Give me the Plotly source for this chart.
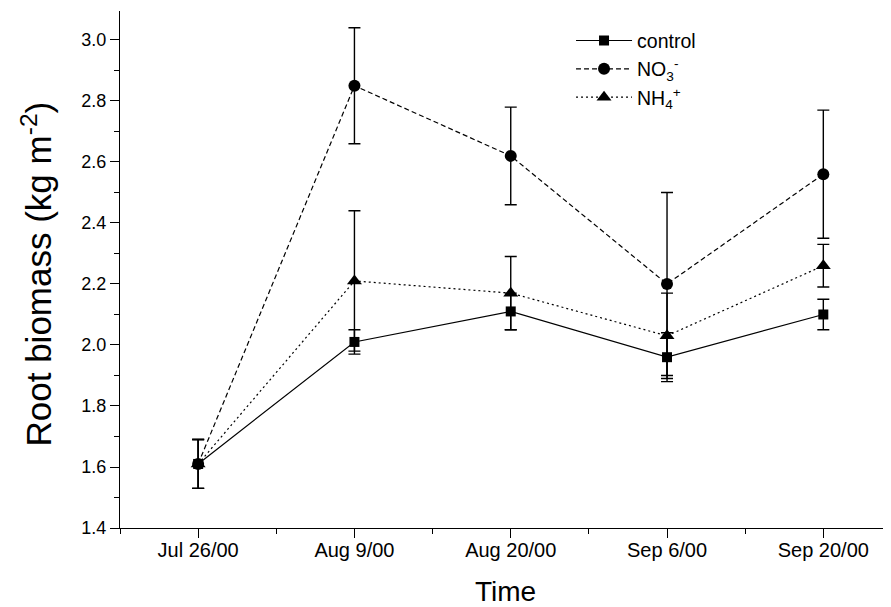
import plotly.graph_objects as go

dates = ["Jul 26/00", "Aug 9/00", "Aug 20/00", "Sep 6/00", "Sep 20/00"]
control = [1.61, 2.01, 2.11, 1.96, 2.10]
control_err = [0.08, 0.04, 0.06, 0.08, 0.05]
no3 = [1.61, 2.85, 2.62, 2.20, 2.56]
no3_err = [0.08, 0.19, 0.16, 0.30, 0.21]
nh4 = [1.61, 2.21, 2.17, 2.03, 2.26]
nh4_err = [0.08, 0.23, 0.12, 0.14, 0.07]
y_ticks = [1.4, 1.6, 1.8, 2.0, 2.2, 2.4, 2.6, 2.8, 3.0]

xpos = list(range(len(dates)))
FONT = "Liberation Sans, Arial, sans-serif"

fig = go.Figure()

series = [
    ("control", control, control_err, "square", 10, "solid"),
    ("NO<sub>3</sub><sup>-</sup>", no3, no3_err, "circle", 12, "5px,3px"),
    ("NH<sub>4</sub><sup>+</sup>", nh4, nh4_err, "triangle-up", 13, "2px,3px"),
]
for name, vals, err, sym, size, dash in series:
    fig.add_trace(go.Scatter(
        x=xpos, y=vals, name=name, mode="lines+markers",
        line=dict(color="black", width=1.2, dash=dash),
        marker=dict(symbol=sym, size=size, color="black"),
        error_y=dict(type="data", array=err, visible=True,
                     color="black", thickness=1.4, width=6),
    ))

fig.add_annotation(
    text="Root biomass (kg m<sup>-2</sup>)", textangle=-90,
    xref="paper", yref="paper", x=0, y=0.5,
    xanchor="center", yanchor="middle", xshift=-84, yshift=-5,
    showarrow=False, font=dict(family=FONT, size=35, color="black"),
)

fig.update_layout(
    width=883, height=599,
    margin=dict(l=112, r=0, t=3, b=79, autoexpand=False),
    plot_bgcolor="white", paper_bgcolor="white",
    font=dict(family=FONT, color="black", size=17),
    showlegend=True,
    legend=dict(x=0.585, y=0.98, xanchor="left", yanchor="top",
                font=dict(family=FONT, size=19.5, color="black"),
                bgcolor="rgba(0,0,0,0)", tracegroupgap=0,
                itemwidth=56),
    xaxis=dict(
        range=[-0.5, 4.433], tickvals=xpos, ticktext=dates,
        automargin=False,
        showline=True, linecolor="black", linewidth=1.3,
        ticks="outside", ticklen=9, tickwidth=1.3, tickcolor="black",
        ticklabelstandoff=-5,
        minor=dict(tickvals=[-0.5, 0.5, 1.5, 2.5, 3.5], ticks="outside",
                   ticklen=5, tickwidth=1.3, tickcolor="black"),
        showgrid=False, zeroline=False,
        tickfont=dict(family=FONT, size=20, color="black"),
        title=dict(text="Time", font=dict(family=FONT, size=28, color="black"),
                   standoff=21),
    ),
    yaxis=dict(
        range=[1.4, 3.095], tickvals=y_ticks,
        ticktext=[f"{v:.1f}" for v in y_ticks],
        automargin=False,
        showline=True, linecolor="black", linewidth=1.3,
        ticks="outside", ticklen=9, tickwidth=1.3, tickcolor="black",
        minor=dict(dtick=0.1, ticks="outside", ticklen=5, tickwidth=1.3,
                   tickcolor="black", showgrid=False),
        showgrid=False, zeroline=False,
        tickfont=dict(family=FONT, size=18, color="black"),
    ),
)

fig.write_html("out.html")
